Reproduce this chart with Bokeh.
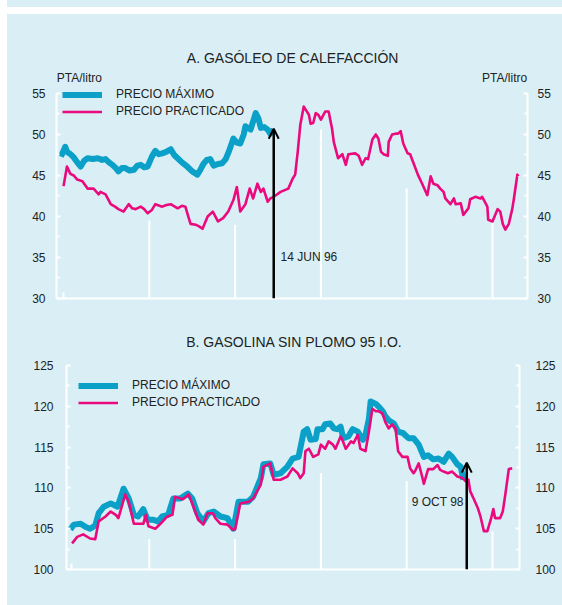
from bokeh.plotting import figure
from bokeh.models import (Range1d, LinearAxis, Legend, LegendItem, Label, Arrow,
                          OpenHead, FixedTicker, Spacer, Div)
from bokeh.layouts import column, row
from bokeh.embed import file_html
from bokeh.resources import INLINE

BG = "#d9eff5"
BLUE = "#0aa0c8"
PINK = "#ea0a7d"
TXT = "#222222"
FONT = "Liberation Sans"

# ---------------- data ----------------
year_marks = [1995, 1996, 1997, 1998, 1999]

# A. Gasóleo de calefacción (PTA/litro)
ticks_a = [30, 35, 40, 45, 50, 55]
minor_a = [32.5, 37.5, 42.5, 47.5, 52.5]
sep_top_a = [39.5, 39.0, 50.6, 43.4, 39.4]
max_a_t = [1993.97, 1994.02, 1994.04, 1994.08, 1994.12, 1994.16, 1994.20, 1994.24, 1994.28, 1994.34,
           1994.40, 1994.45, 1994.49, 1994.53, 1994.57, 1994.61, 1994.64, 1994.68, 1994.72, 1994.77,
           1994.82, 1994.86, 1994.90, 1994.94, 1994.98, 1995.03, 1995.07, 1995.11, 1995.15, 1995.20,
           1995.25, 1995.29, 1995.33, 1995.38, 1995.44, 1995.50, 1995.56, 1995.60, 1995.63, 1995.67,
           1995.71, 1995.75, 1995.80, 1995.85, 1995.89, 1995.93, 1995.98, 1996.02, 1996.06, 1996.10,
           1996.12, 1996.15, 1996.18, 1996.21, 1996.24, 1996.27, 1996.30, 1996.34, 1996.38, 1996.41,
           1996.45]
max_a_v = [47.3, 48.5, 47.9, 47.6, 47.2, 46.6, 46.1, 46.8, 47.1, 47.0,
           47.1, 46.9, 47.0, 46.6, 46.3, 45.9, 45.5, 45.9, 45.9, 45.6,
           45.7, 46.2, 46.3, 46.0, 46.1, 47.3, 48.0, 47.6, 47.7, 47.9,
           48.2, 47.5, 47.1, 46.6, 46.1, 45.5, 45.1, 45.8, 46.4, 46.9,
           47.0, 46.2, 46.4, 46.5, 47.0, 48.0, 49.5, 49.0, 48.9, 50.0,
           51.0, 50.8, 50.6, 51.6, 52.6, 52.0, 50.8, 50.9, 50.6, 50.1,
           50.6]
pr_a_t = [1994.00, 1994.04, 1994.08, 1994.12, 1994.16, 1994.22, 1994.28, 1994.35, 1994.41, 1994.43,
          1994.49, 1994.55, 1994.60, 1994.64, 1994.70, 1994.76, 1994.80, 1994.84, 1994.90, 1994.94,
          1994.98, 1995.03, 1995.07, 1995.15, 1995.20, 1995.25, 1995.33, 1995.38, 1995.42, 1995.48,
          1995.54, 1995.58, 1995.62, 1995.68, 1995.74, 1995.80, 1995.86, 1995.92, 1995.98, 1996.02,
          1996.06, 1996.12, 1996.17, 1996.21, 1996.26, 1996.30, 1996.33, 1996.38, 1996.41, 1996.45,
          1996.53, 1996.62, 1996.67, 1996.70, 1996.73, 1996.76, 1996.80, 1996.86, 1996.88, 1996.91,
          1996.94, 1996.97, 1997.00, 1997.05, 1997.09, 1997.13, 1997.15, 1997.20, 1997.25, 1997.29,
          1997.32, 1997.40, 1997.44, 1997.48, 1997.52, 1997.55, 1997.60, 1997.64, 1997.67, 1997.70,
          1997.73, 1997.78, 1997.79, 1997.83, 1997.87, 1997.90, 1997.93, 1997.96, 1998.01, 1998.04,
          1998.08, 1998.13, 1998.18, 1998.24, 1998.28, 1998.31, 1998.36, 1998.39, 1998.43, 1998.45,
          1998.51, 1998.55, 1998.57, 1998.63, 1998.66, 1998.72, 1998.74, 1998.80, 1998.86, 1998.88,
          1998.94, 1998.95, 1999.00, 1999.06, 1999.09, 1999.12, 1999.15, 1999.19, 1999.23, 1999.25,
          1999.29, 1999.30]
pr_a_v = [43.7, 46.1, 45.2, 45.0, 44.5, 44.3, 43.4, 43.4, 42.7, 43.0,
          42.7, 41.5, 41.2, 40.9, 40.6, 41.5, 41.0, 40.9, 41.2, 40.9,
          40.4, 40.8, 41.5, 41.2, 41.4, 41.5, 41.0, 41.3, 41.2, 39.1,
          39.0, 38.8, 38.5, 40.0, 40.6, 39.4, 39.8, 40.6, 42.0, 43.6,
          40.6, 41.5, 43.4, 42.2, 44.0, 43.0, 43.4, 41.8, 42.2, 42.4,
          43.0, 43.4, 44.6, 45.1, 47.9, 51.2, 53.4, 52.4, 51.3, 51.4,
          52.6, 52.4, 51.8, 52.8, 52.8, 50.7, 49.1, 47.1, 47.6, 46.3,
          47.6, 47.7, 47.4, 46.3, 47.1, 47.0, 49.4, 50.0, 49.5, 47.9,
          47.6, 47.4, 49.1, 50.0, 50.1, 50.1, 50.4, 48.9, 47.7, 47.6,
          46.5, 45.1, 44.0, 42.6, 44.9, 44.0, 43.8, 43.4, 43.0, 42.2,
          41.5, 42.2, 41.5, 41.6, 40.2, 41.0, 42.1, 42.4, 42.2, 42.4,
          41.2, 39.6, 39.4, 40.9, 40.6, 39.1, 38.4, 39.1, 40.9, 42.2,
          45.1, 44.9]

# B. Gasolina sin plomo 95 I.O. (PTA/litro)
ticks_b = [100, 105, 110, 115, 120, 125]
minor_b = [102.5, 107.5, 112.5, 117.5, 122.5]
sep_top_b = [103.7, 103.7, 111.8, 110.8, 104.7]
max_b_t = [1994.08, 1994.12, 1994.20, 1994.26, 1994.31, 1994.37, 1994.41, 1994.47, 1994.55, 1994.63,
           1994.70, 1994.76, 1994.82, 1994.87, 1994.93, 1994.98, 1995.04, 1995.10, 1995.15, 1995.22,
           1995.28, 1995.36, 1995.45, 1995.50, 1995.56, 1995.63, 1995.69, 1995.75, 1995.83, 1995.91,
           1995.98, 1996.04, 1996.15, 1996.21, 1996.30, 1996.33, 1996.41, 1996.45, 1996.53, 1996.61,
           1996.67, 1996.74, 1996.80, 1996.84, 1996.88, 1996.94, 1996.96, 1997.02, 1997.05, 1997.11,
           1997.15, 1997.19, 1997.23, 1997.26, 1997.32, 1997.37, 1997.43, 1997.49, 1997.52, 1997.56,
           1997.58, 1997.64, 1997.67, 1997.72, 1997.75, 1997.79, 1997.85, 1997.90, 1997.96, 1998.02,
           1998.08, 1998.14, 1998.20, 1998.25, 1998.31, 1998.37, 1998.43, 1998.49, 1998.53, 1998.59,
           1998.63, 1998.66]
max_b_v = [104.9, 105.5, 105.6, 105.2, 105.0, 105.4, 106.9, 107.7, 108.1, 107.7,
           109.9, 108.7, 106.7, 106.5, 107.4, 106.1, 106.1, 105.9, 106.5, 106.7,
           108.7, 108.7, 109.3, 108.7, 106.9, 105.9, 106.9, 107.1, 106.5, 106.3,
           105.0, 108.3, 108.3, 108.9, 111.2, 112.9, 113.0, 111.6, 111.8, 112.6,
           113.6, 113.8, 116.9, 117.2, 115.9, 116.0, 117.2, 117.2, 117.8, 117.9,
           117.3, 117.2, 117.5, 116.1, 116.3, 117.2, 116.9, 115.9, 116.5, 118.5,
           120.6, 120.3, 120.0, 119.4, 118.8, 118.3, 117.9, 116.9, 116.7, 116.1,
           116.1, 115.3, 113.8, 114.0, 113.5, 113.6, 113.2, 114.2, 113.8, 112.9,
           112.6, 111.0]
pr_b_t = [1994.10, 1994.16, 1994.23, 1994.31, 1994.37, 1994.41, 1994.49, 1994.55, 1994.61, 1994.64,
          1994.72, 1994.76, 1994.82, 1994.93, 1994.96, 1994.99, 1995.07, 1995.13, 1995.21, 1995.27,
          1995.30, 1995.39, 1995.46, 1995.50, 1995.57, 1995.63, 1995.68, 1995.74, 1995.77, 1995.83,
          1995.91, 1995.97, 1996.00, 1996.06, 1996.16, 1996.21, 1996.30, 1996.33, 1996.41, 1996.45,
          1996.53, 1996.61, 1996.67, 1996.73, 1996.76, 1996.80, 1996.82, 1996.86, 1996.91, 1996.97,
          1997.00, 1997.05, 1997.09, 1997.14, 1997.17, 1997.23, 1997.25, 1997.29, 1997.35, 1997.38,
          1997.43, 1997.46, 1997.52, 1997.56, 1997.60, 1997.64, 1997.67, 1997.72, 1997.75, 1997.79,
          1997.83, 1997.87, 1997.90, 1997.95, 1998.01, 1998.04, 1998.08, 1998.10, 1998.14, 1998.18,
          1998.20, 1998.25, 1998.31, 1998.36, 1998.39, 1998.43, 1998.48, 1998.53, 1998.59, 1998.65,
          1998.69, 1998.72, 1998.74, 1998.78, 1998.83, 1998.86, 1998.90, 1998.94, 1998.98, 1999.01,
          1999.03, 1999.09, 1999.12, 1999.15, 1999.19, 1999.23]
pr_b_v = [103.2, 104.0, 104.3, 103.8, 103.7, 105.9, 106.5, 107.1, 106.7, 106.3,
          109.2, 108.3, 105.6, 105.6, 106.7, 105.3, 105.0, 105.6, 106.5, 106.7,
          108.9, 108.6, 109.2, 108.1, 106.1, 105.5, 106.9, 106.9, 106.3, 105.6,
          105.5, 104.9, 104.9, 108.1, 108.3, 108.7, 110.4, 112.6, 113.0, 111.0,
          111.0, 111.4, 112.4, 111.8, 111.2, 111.8, 114.5, 114.8, 113.8, 114.1,
          115.3, 114.8, 115.7, 115.3, 114.8, 116.3, 115.9, 114.8, 115.7, 115.5,
          116.5, 114.8, 114.5, 116.9, 119.7, 119.4, 119.4, 119.1, 118.1, 117.3,
          117.8, 117.3, 114.5, 113.8, 113.8, 112.4, 111.8, 112.1, 113.0, 111.4,
          110.5, 112.3, 112.3, 112.8, 112.2, 112.0, 111.8, 112.0, 111.4, 111.2,
          110.8, 111.0, 109.6, 108.7, 107.5, 106.5, 104.7, 104.7, 106.1, 107.4,
          106.3, 106.3, 107.1, 109.2, 112.3, 112.4]

assert len(max_a_t) == len(max_a_v) and len(pr_a_t) == len(pr_a_v)
assert len(max_b_t) == len(max_b_v) and len(pr_b_t) == len(pr_b_v)

labels = ["PRECIO MÁXIMO", "PRECIO PRACTICADO"]
titles = ["A. GASÓLEO DE CALEFACCIÓN", "B. GASOLINA SIN PLOMO 95 I.O."]
unit = "PTA/litro"
event_a = ("14 JUN 96", 1996.45, 50.7)
event_b = ("9 OCT 98", 1998.70, 113.1)


def style_axis(ax, standoff):
    ax.axis_line_color = "white"
    ax.axis_line_width = 2
    ax.major_tick_line_color = "white"
    ax.major_tick_line_width = 2
    ax.major_tick_in = 4
    ax.major_tick_out = 0
    ax.minor_tick_line_color = "white"
    ax.minor_tick_line_width = 2
    ax.minor_tick_in = 3
    ax.minor_tick_out = 0
    ax.major_label_text_font = FONT
    ax.major_label_text_font_size = "12px"
    ax.major_label_text_color = TXT
    ax.major_label_standoff = standoff


def txt(p, x, y, s, align, size="12px"):
    p.add_layout(Label(x=x, y=y, text=s, text_align=align, text_baseline="middle",
                       text_font=FONT, text_font_size=size, text_color=TXT))


def build(height, xr, yr, ybounds, ticks, minor, x_tick, borders, standoffs, sep_top,
          mt, mv, pt, pv, legend_loc, event):
    p = figure(width=555, height=height, x_range=Range1d(*xr), y_range=Range1d(*yr),
               output_backend="svg", toolbar_location=None, tools="",
               styles={"background-color": BG})
    p.background_fill_color = BG
    p.border_fill_color = BG
    p.outline_line_color = None
    p.grid.visible = False
    p.min_border_left, p.min_border_right, p.min_border_top, p.min_border_bottom = borders

    yt = FixedTicker(ticks=ticks, minor_ticks=minor)
    la = p.yaxis[0]
    la.ticker = yt
    la.bounds = ybounds
    style_axis(la, standoffs[0])
    ra = LinearAxis(ticker=yt, bounds=ybounds)
    style_axis(ra, standoffs[1])
    p.add_layout(ra, "right")

    xa = p.xaxis[0]
    style_axis(xa, 0)
    xa.ticker = FixedTicker(ticks=[x_tick], minor_ticks=[])
    xa.major_tick_in = 6
    xa.major_label_text_color = None
    xa.major_label_text_font_size = "1px"
    xa.major_label_standoff = 0

    # year separators
    p.segment(x0=year_marks, y0=[ybounds[0]] * len(year_marks), x1=year_marks, y1=sep_top,
              line_color="white", line_width=2)

    r_max = p.line(mt, mv, line_color=BLUE, line_width=6, line_join="round")
    r_pr = p.line(pt, pv, line_color=PINK, line_width=2.6, line_join="round")

    leg = Legend(items=[LegendItem(label=labels[0], renderers=[r_max]),
                        LegendItem(label=labels[1], renderers=[r_pr])],
                 location=legend_loc, padding=0, margin=0,
                 background_fill_alpha=0, border_line_color=None,
                 glyph_width=40, glyph_height=15, label_height=15, spacing=2,
                 label_standoff=14, label_text_font=FONT, label_text_font_size="12px",
                 label_text_color=TXT)
    p.add_layout(leg)

    s, ex, ey = event
    p.add_layout(Arrow(end=OpenHead(size=10, line_width=2, line_color="black"),
                       x_start=ex, y_start=ybounds[0], x_end=ex, y_end=ey,
                       line_width=2.5, line_color="black"))
    return p


# page (no body margin): panel x 7..562; A y 14..325, B y 325..605
# A : frame 56..527 px, 30..62.68 (8.2 px per unit), axes drawn only 30..55
pA = build(311, (1993.918, 1999.408), (30, 62.68), (30, 55), ticks_a, minor_a, 1994.0,
           (49, 35, 16, 27), (11, 10), sep_top_a, max_a_t, max_a_v, pr_a_t, pr_a_v,
           (6, 179.5), event_a)
txt(pA, 1996.67, 59.27, titles[0], "center", "14px")
txt(pA, 1993.922, 56.83, unit, "left")
txt(pA, 1999.404, 56.83, unit, "right")
txt(pA, 1996.53, 35.1, event_a[0], "left")

# B : frame 66..519 px, 100..129.29 (8.16 px per unit), axes drawn only 100..125
pB = build(280, (1994.035, 1999.315), (100, 129.29), (100, 125), ticks_b, minor_b, 1994.09,
           (59, 43, 5, 36), (13, 16), sep_top_b, max_b_t, max_b_v, pr_b_t, pr_b_v,
           (12, 159.5), event_b)
txt(pB, 1996.69, 127.82, titles[1], "center", "14px")
txt(pB, 1998.665, 108.3, event_b[0], "right")

top_band = Div(text="", width=555, height=7, margin=0, styles={"background-color": BG})
gap = Spacer(width=555, height=7)
panel = column(row(pA), row(pB), spacing=0, styles={"background-color": BG})
layout = row(Spacer(width=7, height=605),
             column(top_band, gap, panel, spacing=0), spacing=0)

open("out.html", "w").write(file_html(layout, INLINE))
